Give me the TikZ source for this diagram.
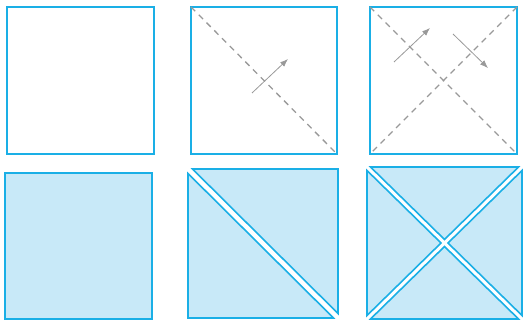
\documentclass[tikz,border=0pt]{standalone}
\usetikzlibrary{arrows.meta}
\definecolor{edgeblue}{HTML}{1AAFE6}
\definecolor{fillblue}{HTML}{C8E9F8}
\definecolor{guide}{HTML}{999999}
\tikzset{
  outline/.style={draw=edgeblue, line width=1.6pt, line join=miter},
  piece/.style={draw=edgeblue, fill=fillblue, line width=1.6pt, line join=miter},
  fold/.style={draw=guide, line width=1.3pt, dash pattern=on 6pt off 5pt},
  move/.style={draw=guide, line width=0.8pt, -{Latex[length=8pt,width=6pt]}}
}
\begin{document}
\begin{tikzpicture}[x=1pt,y=-1pt]
\useasboundingbox (0,0) rectangle (524,320);
% top row
\draw[outline] (7,7) rectangle (154,154);
\draw[outline] (191,7) rectangle (337,154);
\draw[fold] (191,7) -- (337,154);
\draw[move] (252,93) -- (288,59);
\draw[outline] (370,7) rectangle (517,154);
\draw[fold] (370,7) -- (517,154);
\draw[fold] (517,7) -- (370,154);
\draw[move] (394,62) -- (430,28);
\draw[move] (453,34) -- (488,68);
% bottom row
\draw[piece] (5,173) rectangle (152,319);
\draw[piece] (192.5,169) -- (338,169) -- (338,313.5) -- cycle;
\draw[piece] (188,173.5) -- (188,318) -- (333.5,318) -- cycle;
\draw[piece] (370.5,167) -- (518.5,167) -- (444.5,239.5) -- cycle;
\draw[piece] (522,170.5) -- (522,315.5) -- (448,243) -- cycle;
\draw[piece] (370.5,319) -- (518.5,319) -- (444.5,246.5) -- cycle;
\draw[piece] (367,170.5) -- (367,315.5) -- (441,243) -- cycle;
\end{tikzpicture}
\end{document}
